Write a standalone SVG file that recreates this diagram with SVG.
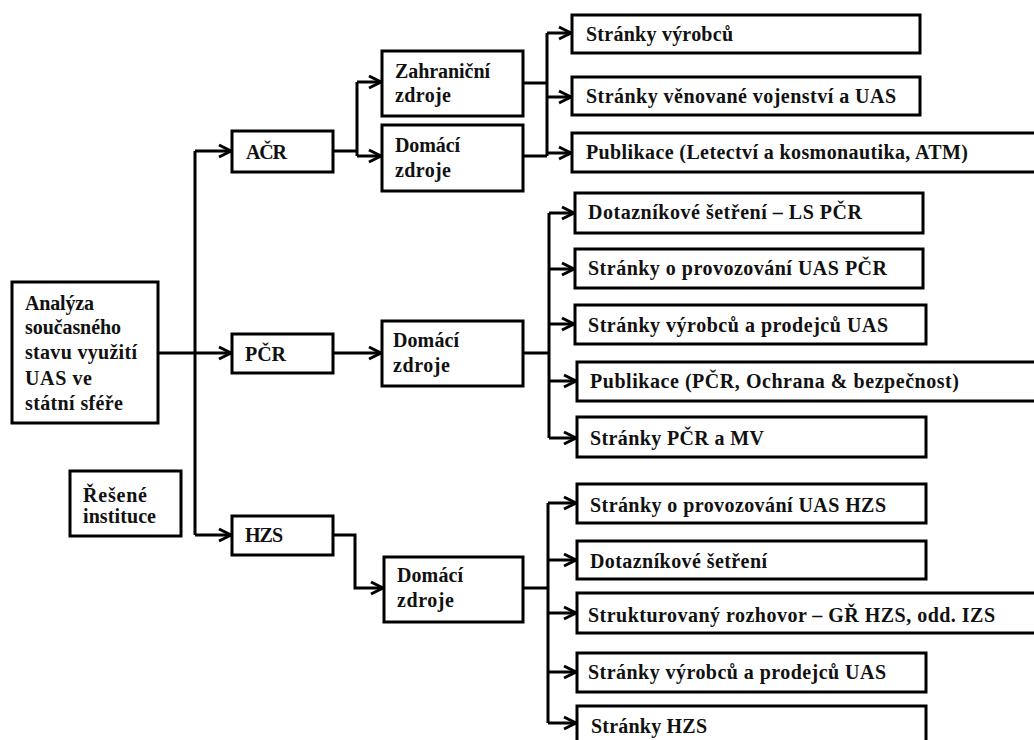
<svg xmlns="http://www.w3.org/2000/svg" width="1034" height="740" viewBox="0 0 1034 740">
  <defs>
    <marker id="arr" markerUnits="userSpaceOnUse" markerWidth="16" markerHeight="16" refX="13" refY="7" orient="auto" overflow="visible">
      <path d="M1,1 L13,7 L1,13" fill="none" stroke="#000" stroke-width="3" stroke-linejoin="miter"/>
    </marker>
    <style>
      .box { fill: #fff; stroke: #000; stroke-width: 3; }
      .t { font-family: "Liberation Serif", "Times New Roman", serif; font-weight: bold; font-size: 20px; fill: #111; }
      .ln { fill: none; stroke: #000; stroke-width: 3; }
      .ar { fill: none; stroke: #000; stroke-width: 3; marker-end: url(#arr); }
    </style>
  </defs>
  <rect width="1034" height="740" fill="#fff"/>

  <!-- connectors -->
  <g id="connectors">
    <!-- root trunk -->
    <path class="ln" d="M195,151 V535"/>
    <path class="ar" d="M195,151 H231"/>
    <path class="ar" d="M158,353 H231"/>
    <path class="ar" d="M195,535 H231"/>
    <!-- AČR branch -->
    <path class="ln" d="M333,151 H357 M357,82 V156"/>
    <path class="ar" d="M357,82 H381"/>
    <path class="ar" d="M357,156 H381"/>
    <path class="ln" d="M523,83 H547 M523,156 H547 M547,33 V156"/>
    <path class="ar" d="M547,33 H571"/>
    <path class="ar" d="M547,97 H571"/>
    <path class="ar" d="M547,153 H571"/>
    <!-- PČR branch -->
    <path class="ar" d="M333,353 H381"/>
    <path class="ln" d="M523,353 H549 M549,213 V438"/>
    <path class="ar" d="M549,213 H574"/>
    <path class="ar" d="M549,269 H574"/>
    <path class="ar" d="M549,324 H574"/>
    <path class="ar" d="M549,381 H576"/>
    <path class="ar" d="M549,438 H576"/>
    <!-- HZS branch -->
    <path class="ar" d="M333,535 H355 V588 H383"/>
    <path class="ln" d="M523,588 H548 M548,503 V723"/>
    <path class="ar" d="M548,503 H576"/>
    <path class="ar" d="M548,560 H576"/>
    <path class="ar" d="M548,613 H576"/>
    <path class="ar" d="M548,672 H576"/>
    <path class="ar" d="M548,723 H576"/>
  </g>

  <!-- root -->
  <g id="root">
    <rect class="box" x="12" y="282" width="146" height="141"/>
    <text class="t" x="25" y="310" textLength="69" lengthAdjust="spacing">Analýza</text>
    <text class="t" x="25" y="334" textLength="96" lengthAdjust="spacing">současného</text>
    <text class="t" x="25" y="359" textLength="112" lengthAdjust="spacing">stavu využití</text>
    <text class="t" x="25" y="385" textLength="67" lengthAdjust="spacing">UAS ve</text>
    <text class="t" x="25" y="410" textLength="98" lengthAdjust="spacing">státní sféře</text>
  </g>

  <g id="legend">
    <rect class="box" x="70" y="471" width="111" height="65"/>
    <text class="t" x="83" y="502" textLength="64" lengthAdjust="spacing">Řešené</text>
    <text class="t" x="83" y="523" textLength="73" lengthAdjust="spacing">instituce</text>
  </g>

  <!-- institutions -->
  <g id="acr">
    <rect class="box" x="232" y="131" width="101" height="41"/>
    <text class="t" x="246" y="159" textLength="41" lengthAdjust="spacing">AČR</text>
  </g>
  <g id="pcr">
    <rect class="box" x="232" y="334" width="101" height="39"/>
    <text class="t" x="245" y="361" textLength="41" lengthAdjust="spacing">PČR</text>
  </g>
  <g id="hzs">
    <rect class="box" x="232" y="516" width="101" height="39"/>
    <text class="t" x="245" y="542" textLength="38" lengthAdjust="spacing">HZS</text>
  </g>

  <!-- source kinds -->
  <g id="acr-foreign">
    <rect class="box" x="382" y="51" width="141" height="65"/>
    <text class="t" x="395" y="78" textLength="95" lengthAdjust="spacing">Zahraniční</text>
    <text class="t" x="395" y="102" textLength="56" lengthAdjust="spacing">zdroje</text>
  </g>
  <g id="acr-domestic">
    <rect class="box" x="382" y="125" width="141" height="66"/>
    <text class="t" x="395" y="152" textLength="65" lengthAdjust="spacing">Domácí</text>
    <text class="t" x="395" y="177" textLength="56" lengthAdjust="spacing">zdroje</text>
  </g>
  <g id="pcr-domestic">
    <rect class="box" x="382" y="321" width="141" height="65"/>
    <text class="t" x="393" y="347" textLength="66" lengthAdjust="spacing">Domácí</text>
    <text class="t" x="393" y="372" textLength="57" lengthAdjust="spacing">zdroje</text>
  </g>
  <g id="hzs-domestic">
    <rect class="box" x="384" y="557" width="139" height="65"/>
    <text class="t" x="397" y="582" textLength="66" lengthAdjust="spacing">Domácí</text>
    <text class="t" x="397" y="607" textLength="57" lengthAdjust="spacing">zdroje</text>
  </g>

  <!-- AČR sources -->
  <g id="acr-s1">
    <rect class="box" x="572" y="15" width="348" height="38"/>
    <text class="t" x="586" y="41" textLength="147" lengthAdjust="spacing">Stránky výrobců</text>
  </g>
  <g id="acr-s2">
    <rect class="box" x="572" y="77" width="348" height="38"/>
    <text class="t" x="586" y="103" textLength="310" lengthAdjust="spacing">Stránky věnované vojenství a UAS</text>
  </g>
  <g id="acr-s3">
    <rect class="box" x="572" y="133" width="480" height="39"/>
    <text class="t" x="586" y="159" textLength="382" lengthAdjust="spacing">Publikace (Letectví a kosmonautika, ATM)</text>
  </g>

  <!-- PČR sources -->
  <g id="pcr-s1">
    <rect class="box" x="575" y="193" width="348" height="40"/>
    <text class="t" x="588" y="219" textLength="274" lengthAdjust="spacing">Dotazníkové šetření – LS PČR</text>
  </g>
  <g id="pcr-s2">
    <rect class="box" x="575" y="249" width="348" height="39"/>
    <text class="t" x="588" y="275" textLength="299" lengthAdjust="spacing">Stránky o provozování UAS PČR</text>
  </g>
  <g id="pcr-s3">
    <rect class="box" x="575" y="305" width="351" height="39"/>
    <text class="t" x="588" y="332" textLength="300" lengthAdjust="spacing">Stránky výrobců a prodejců UAS</text>
  </g>
  <g id="pcr-s4">
    <rect class="box" x="577" y="362" width="480" height="39"/>
    <text class="t" x="590" y="388" textLength="369" lengthAdjust="spacing">Publikace (PČR, Ochrana &amp; bezpečnost)</text>
  </g>
  <g id="pcr-s5">
    <rect class="box" x="577" y="417" width="349" height="40"/>
    <text class="t" x="590" y="445" textLength="174" lengthAdjust="spacing">Stránky PČR a MV</text>
  </g>

  <!-- HZS sources -->
  <g id="hzs-s1">
    <rect class="box" x="577" y="484" width="349" height="39"/>
    <text class="t" x="590" y="512" textLength="296" lengthAdjust="spacing">Stránky o provozování UAS HZS</text>
  </g>
  <g id="hzs-s2">
    <rect class="box" x="577" y="541" width="349" height="38"/>
    <text class="t" x="590" y="568" textLength="177" lengthAdjust="spacing">Dotazníkové šetření</text>
  </g>
  <g id="hzs-s3">
    <rect class="box" x="577" y="593" width="480" height="40"/>
    <text class="t" x="588" y="622" textLength="407" lengthAdjust="spacing">Strukturovaný rozhovor – GŘ HZS, odd. IZS</text>
  </g>
  <g id="hzs-s4">
    <rect class="box" x="577" y="653" width="349" height="39"/>
    <text class="t" x="588" y="679" textLength="298" lengthAdjust="spacing">Stránky výrobců a prodejců UAS</text>
  </g>
  <g id="hzs-s5">
    <rect class="box" x="577" y="706" width="349" height="50"/>
    <text class="t" x="591" y="733" textLength="116" lengthAdjust="spacing">Stránky HZS</text>
  </g>
</svg>
